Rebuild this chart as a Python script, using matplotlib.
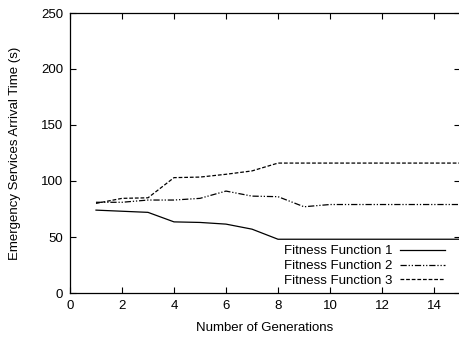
import matplotlib
matplotlib.use('Agg')
import matplotlib.pyplot as plt

plt.rcParams['font.family'] = ['Liberation Sans', 'DejaVu Sans']

# Data
generations = [1, 2, 3, 4, 5, 6, 7, 8, 9, 10, 11, 12, 13, 14, 15]
fitness_1 = [74, 73, 72, 63.5, 63, 61.5, 57, 48, 48, 48, 48, 48, 48, 48, 48]
fitness_2 = [81, 81, 83, 83, 84.5, 91, 86.5, 86, 77, 79, 79, 79, 79, 79, 79]
fitness_3 = [80, 84.5, 85, 103, 103.5, 106, 109, 116, 116, 116, 116, 116, 116, 116, 116]

fig = plt.figure(figsize=(4.6, 3.39), dpi=100)
ax = fig.add_axes([70 / 460, 1 - 293 / 339, 390 / 460, 280 / 339])

ax.plot(generations, fitness_1, color='black', lw=0.9, ls='-', label='Fitness Function 1')
ax.plot(generations, fitness_2, color='black', lw=0.9, ls=(0, (5, 1.5, 1, 1.5, 1, 1.5)),
        label='Fitness Function 2')
ax.plot(generations, fitness_3, color='black', lw=0.9, ls=(0, (3, 1.5)), label='Fitness Function 3')

ax.set_xlim(0, 15)
ax.set_ylim(0, 250)
ax.set_xticks(range(0, 15, 2))
ax.set_yticks(range(0, 251, 50))
ax.tick_params(direction='in', top=True, right=True, labelsize=9.5, length=4, width=0.8, pad=5)
for s in ax.spines.values():
    s.set_linewidth(0.9)

ax.set_xlabel('Number of Generations', fontsize=9.5, labelpad=7)
ax.set_ylabel('Emergency Services Arrival Time (s)', fontsize=9.5, labelpad=14)

ax.legend(loc='lower right', frameon=False, fontsize=9.5, markerfirst=False,
          handlelength=3.4, labelspacing=0.2, borderaxespad=0.0, handletextpad=0.6,
          borderpad=0.3, bbox_to_anchor=(0.972, 0.007))

fig.savefig('out.png', dpi=100)
